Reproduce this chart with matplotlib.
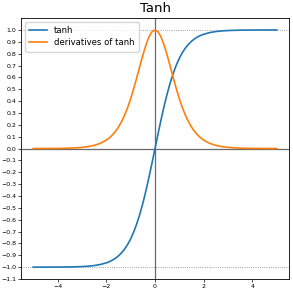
#!/usr/bin/env python3

import numpy as np

import matplotlib
matplotlib.use('Agg')
import matplotlib.pyplot as plt


# sample points (finer near the centre)
x_vals = [-5.0, -4.75, -4.5, -4.25, -4.0, -3.75, -3.5, -3.25, -3.0, -2.75,
          -2.5, -2.25, -2.0, -1.875, -1.75, -1.625, -1.5, -1.375, -1.25,
          -1.125, -1.0, -0.875, -0.75, -0.625, -0.5, -0.375, -0.25, -0.125,
          0.0,
          0.125, 0.25, 0.375, 0.5, 0.625, 0.75, 0.875, 1.0, 1.125, 1.25,
          1.375, 1.5, 1.625, 1.75, 1.875, 2.0, 2.25, 2.5, 2.75, 3.0, 3.25,
          3.5, 3.75, 4.0, 4.25, 4.5, 4.75, 5.0]

tanh_vals = [-0.9999, -0.9999, -0.9998, -0.9996, -0.9993, -0.9989, -0.9982,
             -0.9970, -0.9951, -0.9919, -0.9866, -0.9780, -0.9640, -0.9541,
             -0.9413, -0.9254, -0.9051, -0.8799, -0.8483, -0.8095, -0.7616,
             -0.7039, -0.6351, -0.5546, -0.4621, -0.3584, -0.2449, -0.1244,
             0.0,
             0.1244, 0.2449, 0.3584, 0.4621, 0.5546, 0.6351, 0.7039, 0.7616,
             0.8095, 0.8483, 0.8799, 0.9051, 0.9254, 0.9413, 0.9541, 0.9640,
             0.9780, 0.9866, 0.9919, 0.9951, 0.9970, 0.9982, 0.9989, 0.9993,
             0.9996, 0.9998, 0.9999, 0.9999]

dtanh_vals = [0.0002, 0.0003, 0.0005, 0.0008, 0.0013, 0.0022, 0.0036, 0.0060,
              0.0099, 0.0162, 0.0266, 0.0435, 0.0707, 0.0897, 0.1140, 0.1437,
              0.1807, 0.2258, 0.2804, 0.3447, 0.4200, 0.5045, 0.5966, 0.6924,
              0.7864, 0.8716, 0.9400, 0.9845,
              1.0,
              0.9845, 0.9400, 0.8716, 0.7864, 0.6924, 0.5966, 0.5045, 0.4200,
              0.3447, 0.2804, 0.2258, 0.1807, 0.1437, 0.1140, 0.0897, 0.0707,
              0.0435, 0.0266, 0.0162, 0.0099, 0.0060, 0.0036, 0.0022, 0.0013,
              0.0008, 0.0005, 0.0003, 0.0002]

y_ticks = [round(v, 1) for v in np.arange(-1.1, 1.05, 0.1)]


def main():
    fig = plt.figure(figsize=(2.93, 2.96), dpi=100)
    ax = fig.add_axes([21 / 293, 1 - 279 / 296, 268 / 293, 261.5 / 296])

    ax.axhline(1.0, color='grey', linestyle=':', linewidth=0.6)
    ax.axhline(-1.0, color='grey', linestyle=':', linewidth=0.6)
    ax.axhline(0.0, color='dimgrey', linewidth=0.9)
    ax.axvline(0.0, color='dimgrey', linewidth=0.9)

    ax.plot(x_vals, tanh_vals, label='tanh', linewidth=1.2)
    ax.plot(x_vals, dtanh_vals, label='derivatives of tanh', linewidth=1.2)

    ax.set_xlim(-5.5, 5.5)
    ax.set_ylim(-1.1, 1.105)
    ax.set_yticks(y_ticks)
    ax.set_xticks([-4, -2, 0, 2, 4])
    ax.tick_params(labelsize=4.5, length=2, width=0.5, pad=1.5)
    for s in ax.spines.values():
        s.set_linewidth(0.6)

    ax.set_title('Tanh', fontsize=9.5, pad=4)
    ax.legend(loc='upper left', fontsize=6.1, handlelength=2.05,
              borderpad=0.5, labelspacing=0.4, borderaxespad=0.5,
              handletextpad=0.85)

    fig.savefig('out.png', dpi=100)


if __name__ == '__main__':
    main()
